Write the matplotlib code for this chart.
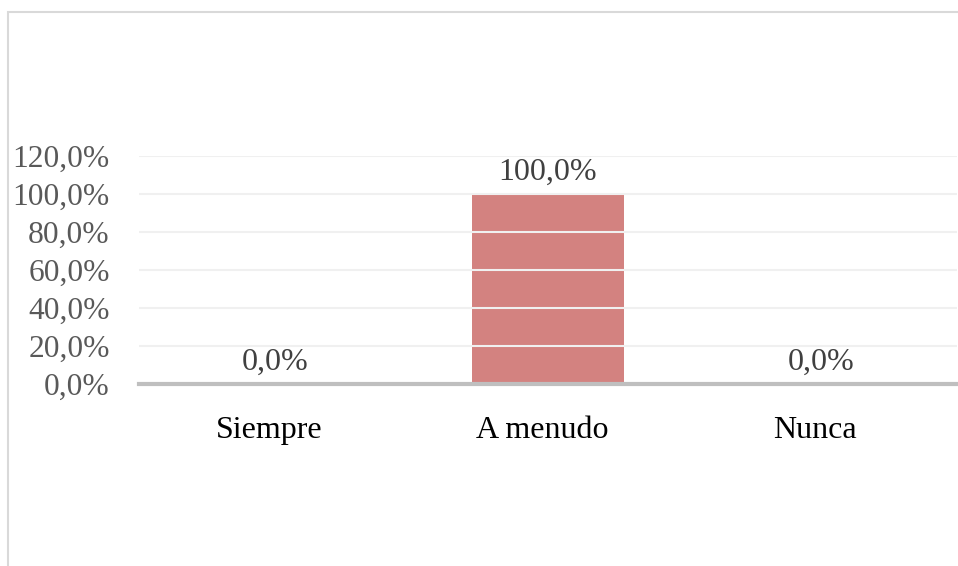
import matplotlib
matplotlib.use("Agg")
import matplotlib.pyplot as plt
import matplotlib.transforms as mtransforms
from matplotlib.patches import Rectangle
from matplotlib.ticker import FuncFormatter

categories = ["Siempre", "A menudo", "Nunca"]
values = [0.0, 100.0, 0.0]
yticks = [0, 20, 40, 60, 80, 100, 120]

W, H = 958, 566
fig = plt.figure(figsize=(W / 100, H / 100), dpi=100)
plt.rcParams["font.family"] = ["Liberation Serif", "DejaVu Serif"]

# outer chart frame (extends past the right and bottom edges)
fig.patches.append(Rectangle((8 / W, -0.1), 1.2, 1.1 - 12 / H,
                             transform=fig.transFigure, fill=False,
                             edgecolor="#D9D9D9", linewidth=1.5, zorder=0))

left, right = 139 / W, 957 / W
bottom, top = 1 - 384 / H, 1 - 156 / H
ax = fig.add_axes([left, bottom, right - left, top - bottom])

x = list(range(len(categories)))
ax.bar(x, values, width=0.557, color="#D38280", zorder=1)

ax.set_ylim(0, 120)
ax.set_xlim(-0.5, 2.5)
ax.set_yticks(yticks)
ax.yaxis.set_major_formatter(FuncFormatter(lambda v, p: f"{v:.1f}".replace(".", ",") + "%"))
ax.grid(axis="y", color="#F0F0F0", linewidth=1.5, zorder=2)
ax.set_axisbelow(False)

for s in ["top", "right", "left"]:
    ax.spines[s].set_visible(False)
ax.spines["bottom"].set_color("#BFBFBF")
ax.spines["bottom"].set_linewidth(3)
ax.spines["bottom"].set_zorder(3)

ax.set_xticks(x)
ax.set_xticklabels(categories, fontsize=23, color="black")
ax.tick_params(axis="x", length=0, pad=23)
ax.tick_params(axis="y", length=0, pad=21, labelsize=22.7, labelcolor="#595959")

# nudge category labels slightly to the left
shift = mtransforms.ScaledTranslation(-6 / 100, 0, fig.dpi_scale_trans)
for lbl in ax.get_xticklabels():
    lbl.set_transform(lbl.get_transform() + shift)

for xi, v in zip(x, values):
    ax.annotate(f"{v:.1f}".replace(".", ",") + "%", (xi, v), xytext=(0, 5.5),
                textcoords="offset points", ha="center", va="bottom",
                fontsize=23, color="#404040")

fig.savefig("out.png", dpi=100)
